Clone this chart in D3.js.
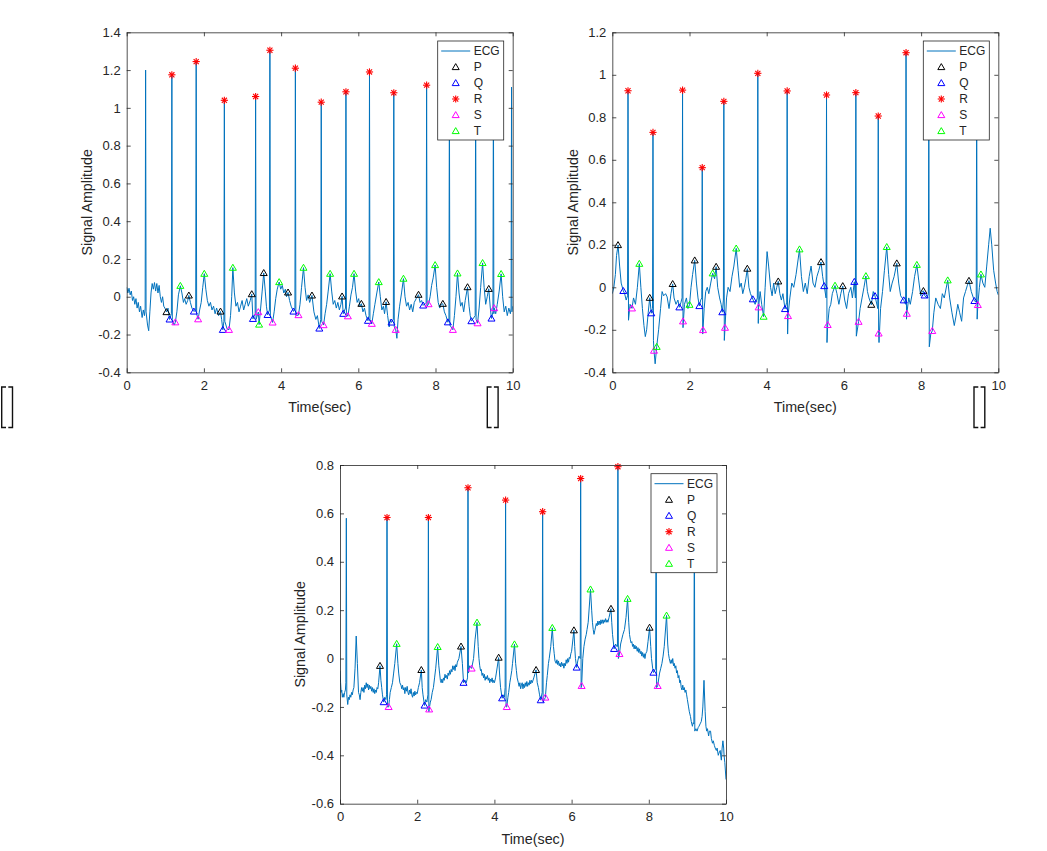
<!DOCTYPE html>
<html>
<head>
<meta charset="utf-8">
<script src="https://cdn.jsdelivr.net/npm/d3@7/dist/d3.min.js"></script>
<style>
  body { margin: 0; background: #fff; }
  text { font-family: "Liberation Sans", Arial, Helvetica, sans-serif; fill: #262626; }
</style>
</head>
<body>
<svg id="fig" width="1047" height="851"></svg>
<script>
// ---- valeurs ----
const xTicks = [0, 2, 4, 6, 8, 10];
const yTicks1 = [-0.4, -0.2, 0, 0.2, 0.4, 0.6, 0.8, 1, 1.2, 1.4];
const yTicks2 = [-0.4, -0.2, 0, 0.2, 0.4, 0.6, 0.8, 1, 1.2];
const yTicks3 = [-0.6, -0.4, -0.2, 0, 0.2, 0.4, 0.6, 0.8];
const legendNames = ['ECG', 'P', 'Q', 'R', 'S', 'T'];

// signal 1 : [temps, amplitude]
const ecg1 = [[0,0.05],[0.03,0.02],[0.06,0.045],[0.09,0.01],[0.12,0.03],[0.15,-0.02],[0.18,0.0],[0.21,-0.04],[0.24,-0.01],[0.27,-0.06],[0.3,-0.03],[0.33,-0.08],[0.36,-0.05],[0.4,-0.11],[0.43,-0.07],[0.46,-0.1],[0.478,-0.06],[0.49,1.2],[0.502,-0.08],[0.54,-0.15],[0.57,-0.18],[0.6,-0.08],[0.63,0.02],[0.66,0.07],[0.69,0.04],[0.72,0.075],[0.75,0.03],[0.78,0.07],[0.81,0.02],[0.84,0.06],[0.87,0.0],[0.9,-0.03],[0.93,0.0],[0.96,-0.05],[0.99,-0.06],[1.03,-0.08],[1.07,-0.06],[1.11,-0.12],[1.158,-0.09],[1.17,1.175],[1.182,-0.12],[1.23,-0.15],[1.26,-0.135],[1.3,-0.08],[1.34,0.01],[1.39,0.058],[1.43,0.02],[1.47,-0.03],[1.5,-0.01],[1.54,-0.04],[1.58,-0.02],[1.61,0.007],[1.65,-0.03],[1.69,-0.06],[1.74,-0.078],[1.788,-0.07],[1.8,1.245],[1.812,-0.09],[1.85,-0.119],[1.89,-0.07],[1.93,-0.03],[1.97,0.05],[2.01,0.122],[2.05,0.04],[2.09,-0.02],[2.13,-0.05],[2.17,-0.03],[2.21,-0.07],[2.25,-0.05],[2.29,-0.09],[2.33,-0.06],[2.38,-0.1],[2.43,-0.078],[2.46,-0.12],[2.49,-0.175],[2.518,-0.13],[2.53,1.04],[2.542,-0.13],[2.6,-0.17],[2.65,-0.175],[2.69,-0.1],[2.72,0.0],[2.75,0.154],[2.79,0.02],[2.83,-0.05],[2.87,-0.03],[2.91,-0.08],[2.95,-0.05],[2.99,-0.02],[3.03,-0.07],[3.07,-0.04],[3.11,-0.01],[3.15,-0.05],[3.2,-0.02],[3.24,0.014],[3.27,-0.117],[3.328,-0.09],[3.34,1.06],[3.352,-0.12],[3.41,-0.081],[3.43,-0.147],[3.47,-0.06],[3.51,0.03],[3.55,0.126],[3.59,0.03],[3.62,-0.05],[3.65,-0.096],[3.698,-0.07],[3.71,1.305],[3.722,-0.1],[3.78,-0.136],[3.82,-0.08],[3.86,-0.01],[3.9,0.04],[3.95,0.078],[3.99,0.04],[4.03,0.06],[4.07,0.02],[4.11,0.04],[4.14,0.0],[4.18,0.023],[4.22,-0.02],[4.26,-0.05],[4.32,-0.078],[4.358,-0.06],[4.37,1.21],[4.382,-0.1],[4.45,-0.097],[4.49,-0.04],[4.53,0.05],[4.58,0.154],[4.62,0.05],[4.66,-0.02],[4.7,0.01],[4.74,-0.03],[4.8,0.007],[4.85,-0.08],[4.9,-0.12],[4.94,-0.1],[4.99,-0.168],[5.028,-0.12],[5.04,1.03],[5.052,-0.13],[5.1,-0.15],[5.14,-0.09],[5.18,-0.04],[5.22,0.03],[5.27,0.122],[5.31,0.03],[5.35,-0.04],[5.39,-0.02],[5.43,-0.06],[5.47,-0.03],[5.51,-0.07],[5.55,-0.04],[5.58,0.002],[5.61,-0.09],[5.668,-0.06],[5.68,1.085],[5.692,-0.09],[5.73,-0.103],[5.77,-0.05],[5.81,0.01],[5.85,0.05],[5.89,0.122],[5.93,0.03],[5.97,-0.03],[6.01,-0.01],[6.04,-0.05],[6.08,-0.037],[6.12,-0.08],[6.16,-0.06],[6.2,-0.1],[6.25,-0.127],[6.278,-0.1],[6.29,1.19],[6.302,-0.12],[6.35,-0.143],[6.39,-0.09],[6.43,-0.04],[6.48,0.02],[6.53,0.078],[6.57,0.0],[6.61,-0.07],[6.65,-0.05],[6.68,-0.09],[6.72,-0.027],[6.76,-0.1],[6.8,-0.16],[6.83,-0.12],[6.86,-0.136],[6.908,-0.12],[6.92,1.08],[6.932,-0.16],[6.97,-0.175],[7.0,-0.22],[7.03,-0.12],[7.07,-0.05],[7.12,0.02],[7.17,0.096],[7.21,0.0],[7.25,-0.05],[7.29,-0.03],[7.33,-0.07],[7.37,-0.04],[7.41,-0.08],[7.45,-0.03],[7.5,-0.01],[7.56,0.011],[7.6,-0.03],[7.64,-0.02],[7.68,-0.046],[7.758,-0.03],[7.77,1.12],[7.782,-0.05],[7.82,-0.039],[7.86,0.0],[7.9,0.06],[7.94,0.1],[7.99,0.168],[8.03,0.05],[8.07,-0.03],[8.11,-0.06],[8.15,-0.04],[8.19,-0.037],[8.23,-0.08],[8.27,-0.1],[8.32,-0.135],[8.348,-0.12],[8.36,1.15],[8.372,-0.15],[8.45,-0.175],[8.49,-0.1],[8.53,0.0],[8.57,0.124],[8.61,0.02],[8.65,-0.05],[8.69,-0.03],[8.73,-0.08],[8.77,-0.02],[8.83,0.051],[8.87,-0.05],[8.9,-0.1],[8.93,-0.129],[9.028,-0.1],[9.04,1.15],[9.052,-0.12],[9.09,-0.14],[9.13,-0.06],[9.17,0.05],[9.22,0.179],[9.26,0.05],[9.3,-0.04],[9.34,0.0],[9.38,0.042],[9.42,-0.06],[9.45,-0.115],[9.488,-0.08],[9.5,1.15],[9.512,-0.09],[9.52,-0.06],[9.56,-0.09],[9.6,-0.04],[9.65,0.03],[9.7,0.121],[9.74,0.0],[9.78,-0.08],[9.82,-0.05],[9.86,-0.1],[9.9,-0.06],[9.94,-0.09],[9.958,-0.06],[9.97,1.11],[9.982,-0.08],[10,-0.05]];
const P1 = [[1.03,-0.081],[1.61,0.007],[2.43,-0.078],[3.24,0.014],[3.55,0.126],[4.18,0.023],[4.8,0.007],[5.58,0.002],[6.08,-0.037],[6.72,-0.027],[7.56,0.011],[8.19,-0.037],[8.83,0.051],[9.38,0.042]];
const Q1 = [[1.11,-0.12],[1.74,-0.078],[2.49,-0.175],[3.27,-0.117],[3.65,-0.096],[4.32,-0.078],[4.99,-0.168],[5.61,-0.09],[6.25,-0.127],[6.86,-0.136],[7.68,-0.046],[8.32,-0.135],[8.93,-0.129],[9.45,-0.115]];
const R1 = [[1.17,1.175],[1.8,1.245],[2.53,1.04],[3.34,1.06],[3.71,1.305],[4.37,1.21],[5.04,1.03],[5.68,1.085],[6.29,1.19],[6.92,1.08],[7.77,1.12],[8.36,1.15],[9.04,1.15],[9.5,1.15]];
const S1 = [[1.26,-0.135],[1.85,-0.119],[2.65,-0.175],[3.41,-0.081],[3.78,-0.136],[4.45,-0.097],[5.1,-0.15],[5.73,-0.103],[6.35,-0.143],[6.97,-0.175],[7.82,-0.039],[8.45,-0.175],[9.09,-0.14],[9.52,-0.06]];
const T1 = [[1.39,0.058],[2.01,0.122],[2.75,0.154],[3.43,-0.147],[3.95,0.078],[4.58,0.154],[5.27,0.122],[5.89,0.122],[6.53,0.078],[7.17,0.096],[7.99,0.168],[8.57,0.124],[9.22,0.179],[9.7,0.121]];

// signal 2
const ecg2 = [[0,-0.03],[0.04,0.0],[0.08,0.06],[0.11,0.15],[0.15,0.199],[0.19,0.1],[0.23,0.02],[0.285,-0.017],[0.32,-0.03],[0.36,-0.06],[0.395,-0.04],[0.407,0.925],[0.42,-0.155],[0.46,-0.08],[0.51,-0.099],[0.55,-0.05],[0.6,-0.08],[0.65,0.0],[0.7,0.111],[0.74,0.0],[0.78,-0.1],[0.82,-0.18],[0.855,-0.232],[0.89,-0.2],[0.93,-0.12],[0.97,-0.049],[1.01,-0.122],[1.042,-0.1],[1.054,0.729],[1.066,-0.25],[1.08,-0.298],[1.11,-0.36],[1.15,-0.28],[1.2,-0.2],[1.25,-0.1],[1.29,-0.02],[1.33,-0.04],[1.38,-0.03],[1.42,-0.045],[1.47,-0.1],[1.52,-0.03],[1.564,0.016],[1.6,-0.05],[1.65,-0.08],[1.7,-0.06],[1.737,-0.094],[1.78,-0.07],[1.808,-0.05],[1.82,0.928],[1.832,-0.19],[1.87,-0.08],[1.92,-0.05],[1.96,-0.1],[2.0,-0.082],[2.04,0.0],[2.08,0.06],[2.135,0.127],[2.18,0.02],[2.22,-0.05],[2.255,-0.088],[2.29,-0.06],[2.318,-0.05],[2.33,0.563],[2.342,-0.22],[2.35,-0.201],[2.38,-0.1],[2.42,-0.02],[2.46,0.0],[2.5,-0.03],[2.55,0.02],[2.6,0.066],[2.65,0.04],[2.69,0.097],[2.73,0.0],[2.78,-0.05],[2.82,-0.08],[2.85,-0.117],[2.878,-0.06],[2.89,0.875],[2.902,-0.25],[2.92,-0.19],[2.96,-0.05],[3.0,0.0],[3.05,-0.02],[3.1,0.05],[3.15,0.1],[3.21,0.183],[3.26,0.08],[3.3,0.0],[3.34,0.02],[3.38,-0.03],[3.42,0.0],[3.46,0.04],[3.498,0.088],[3.54,0.0],[3.58,-0.03],[3.64,-0.056],[3.7,-0.08],[3.758,-0.05],[3.77,1.007],[3.782,-0.17],[3.79,-0.094],[3.83,-0.02],[3.87,-0.08],[3.92,-0.138],[3.96,0.0],[4.01,0.168],[4.05,0.1],[4.1,0.0],[4.14,-0.04],[4.18,0.02],[4.22,-0.03],[4.26,0.0],[4.3,0.028],[4.34,-0.03],[4.38,-0.06],[4.42,-0.03],[4.474,-0.102],[4.518,-0.07],[4.53,0.924],[4.542,-0.22],[4.552,-0.135],[4.6,-0.05],[4.65,0.02],[4.7,0.0],[4.76,0.06],[4.85,0.179],[4.9,0.05],[4.95,-0.02],[5.0,0.02],[5.05,-0.03],[5.1,0.05],[5.15,0.1],[5.2,0.02],[5.25,0.0],[5.3,0.05],[5.35,0.08],[5.407,0.119],[5.45,0.05],[5.49,0.006],[5.538,-0.05],[5.55,0.905],[5.562,-0.26],[5.58,-0.177],[5.62,-0.1],[5.66,-0.08],[5.7,-0.03],[5.77,0.008],[5.82,-0.03],[5.87,-0.08],[5.92,-0.03],[5.97,0.006],[6.02,-0.06],[6.07,-0.1],[6.12,-0.03],[6.18,0.0],[6.22,-0.05],[6.27,0.026],[6.298,-0.05],[6.31,0.916],[6.322,-0.23],[6.38,-0.162],[6.42,-0.1],[6.47,-0.05],[6.52,0.0],[6.57,0.053],[6.61,-0.02],[6.65,-0.05],[6.71,-0.082],[6.76,-0.02],[6.806,-0.041],[6.878,-0.1],[6.89,0.806],[6.9,-0.217],[6.91,-0.26],[6.95,-0.1],[7.0,-0.02],[7.05,0.08],[7.11,0.19],[7.16,0.06],[7.2,-0.02],[7.25,0.02],[7.3,0.05],[7.37,0.113],[7.42,0.02],[7.47,-0.04],[7.55,-0.061],[7.598,-0.08],[7.61,1.104],[7.622,-0.15],[7.63,-0.124],[7.68,-0.05],[7.72,-0.08],[7.78,-0.02],[7.83,0.05],[7.89,0.106],[7.94,0.03],[7.99,-0.04],[8.03,-0.02],[8.06,-0.017],[8.09,-0.038],[8.15,-0.05],[8.188,-0.03],[8.2,0.9],[8.212,-0.28],[8.25,-0.22],[8.29,-0.205],[8.33,-0.12],[8.38,-0.05],[8.44,-0.08],[8.5,-0.1],[8.55,-0.03],[8.6,-0.05],[8.69,0.033],[8.74,-0.05],[8.8,-0.12],[8.86,-0.18],[8.9,-0.14],[8.95,-0.08],[9.0,-0.12],[9.05,-0.16],[9.1,-0.05],[9.15,-0.02],[9.2,0.01],[9.24,0.031],[9.3,-0.02],[9.38,-0.064],[9.428,-0.07],[9.44,0.9],[9.452,-0.15],[9.47,-0.083],[9.51,0.0],[9.55,0.061],[9.6,0.02],[9.65,0.0],[9.7,0.1],[9.75,0.2],[9.79,0.278],[9.83,0.2],[9.88,0.08],[9.93,0.02],[9.97,-0.02],[10,-0.036]];
const P2 = [[0.148,0.199],[0.969,-0.049],[1.564,0.016],[2.135,0.127],[2.69,0.097],[3.498,0.088],[4.3,0.028],[5.407,0.119],[5.97,0.006],[6.71,-0.082],[7.37,0.113],[8.06,-0.017],[9.24,0.031]];
const Q2 = [[0.285,-0.017],[1.01,-0.122],[1.737,-0.094],[2.255,-0.088],[2.85,-0.117],[3.64,-0.056],[4.474,-0.102],[5.49,0.006],[6.27,0.026],[6.806,-0.041],[7.55,-0.061],[8.09,-0.038],[9.38,-0.064]];
const R2 = [[0.407,0.925],[1.054,0.729],[1.82,0.928],[2.33,0.563],[2.89,0.875],[3.77,1.007],[4.53,0.924],[5.55,0.905],[6.31,0.916],[6.89,0.806],[7.61,1.104],[8.2,0.9],[9.44,0.9]];
const S2 = [[0.51,-0.099],[1.08,-0.298],[1.832,-0.16],[2.35,-0.201],[2.92,-0.19],[3.79,-0.094],[4.552,-0.135],[5.58,-0.177],[6.38,-0.162],[6.9,-0.217],[7.63,-0.124],[8.29,-0.205],[9.47,-0.083]];
const T2 = [[0.7,0.111],[1.15,-0.28],[2.0,-0.082],[2.6,0.066],[3.21,0.183],[3.92,-0.138],[4.85,0.179],[5.77,0.008],[6.57,0.053],[7.11,0.19],[7.89,0.106],[8.69,0.033],[9.55,0.061]];

// signal 3
const ecg3 = [[0,-0.05],[0.015,-0.1],[0.03,-0.14],[0.045,-0.13],[0.06,-0.16],[0.08,-0.145],[0.1,-0.16],[0.12,-0.14],[0.14,-0.13],[0.152,-0.1],[0.164,0.58],[0.176,-0.15],[0.2,-0.19],[0.22,-0.16],[0.24,-0.17],[0.26,-0.15],[0.28,-0.16],[0.3,-0.14],[0.32,-0.15],[0.34,-0.13],[0.36,-0.12],[0.39,-0.04],[0.42,0.093],[0.45,-0.02],[0.48,-0.14],[0.5,-0.15],[0.52,-0.17],[0.54,-0.14],[0.56,-0.12],[0.58,-0.135],[0.6,-0.12],[0.62,-0.14],[0.64,-0.11],[0.66,-0.125],[0.68,-0.1],[0.7,-0.12],[0.72,-0.105],[0.74,-0.13],[0.76,-0.11],[0.78,-0.125],[0.8,-0.115],[0.82,-0.135],[0.84,-0.12],[0.86,-0.14],[0.88,-0.125],[0.9,-0.145],[0.92,-0.13],[0.94,-0.14],[0.96,-0.12],[0.98,-0.125],[1.0,-0.1],[1.036,-0.03],[1.06,-0.09],[1.08,-0.12],[1.1,-0.15],[1.131,-0.18],[1.16,-0.16],[1.19,-0.17],[1.206,-0.15],[1.218,0.583],[1.23,-0.2],[1.26,-0.2],[1.28,-0.17],[1.3,-0.14],[1.33,-0.12],[1.36,-0.1],[1.39,-0.06],[1.42,-0.02],[1.468,0.061],[1.5,-0.02],[1.52,-0.06],[1.55,-0.1],[1.58,-0.11],[1.6,-0.125],[1.62,-0.11],[1.64,-0.13],[1.66,-0.12],[1.68,-0.145],[1.7,-0.12],[1.72,-0.135],[1.74,-0.115],[1.76,-0.14],[1.78,-0.15],[1.8,-0.13],[1.82,-0.145],[1.84,-0.125],[1.86,-0.15],[1.88,-0.16],[1.9,-0.14],[1.92,-0.155],[1.94,-0.135],[1.96,-0.15],[1.98,-0.14],[2.0,-0.145],[2.03,-0.12],[2.06,-0.1],[2.107,-0.047],[2.13,-0.12],[2.15,-0.15],[2.19,-0.194],[2.22,-0.17],[2.25,-0.18],[2.278,-0.15],[2.29,0.583],[2.302,-0.22],[2.31,-0.21],[2.34,-0.18],[2.36,-0.17],[2.39,-0.14],[2.42,-0.12],[2.45,-0.08],[2.48,-0.04],[2.53,0.048],[2.56,-0.03],[2.58,-0.06],[2.6,-0.09],[2.62,-0.1],[2.64,-0.085],[2.66,-0.1],[2.68,-0.08],[2.7,-0.09],[2.72,-0.065],[2.74,-0.08],[2.76,-0.07],[2.78,-0.085],[2.8,-0.06],[2.82,-0.07],[2.84,-0.05],[2.86,-0.065],[2.88,-0.045],[2.9,-0.055],[2.92,-0.03],[2.94,-0.045],[2.96,-0.03],[2.98,-0.05],[3.0,-0.025],[3.02,-0.035],[3.04,-0.015],[3.08,0.0],[3.135,0.05],[3.17,-0.02],[3.2,-0.1],[3.24,-0.09],[3.27,-0.1],[3.304,-0.08],[3.316,0.706],[3.328,-0.06],[3.36,-0.03],[3.41,-0.041],[3.46,0.0],[3.5,0.08],[3.55,0.149],[3.58,0.05],[3.6,0.0],[3.62,-0.03],[3.64,-0.05],[3.66,-0.045],[3.68,-0.07],[3.7,-0.06],[3.72,-0.08],[3.74,-0.065],[3.76,-0.09],[3.78,-0.075],[3.8,-0.085],[3.82,-0.07],[3.84,-0.09],[3.86,-0.08],[3.88,-0.1],[3.9,-0.085],[3.92,-0.095],[3.94,-0.08],[3.96,-0.1],[3.98,-0.09],[4.0,-0.1],[4.03,-0.08],[4.05,-0.06],[4.11,0.004],[4.14,-0.08],[4.16,-0.12],[4.2,-0.164],[4.23,-0.15],[4.26,-0.16],[4.278,-0.12],[4.29,0.655],[4.302,-0.2],[4.32,-0.2],[4.35,-0.16],[4.37,-0.14],[4.4,-0.1],[4.42,-0.08],[4.45,-0.05],[4.47,-0.02],[4.52,0.059],[4.55,-0.02],[4.57,-0.05],[4.59,-0.08],[4.62,-0.1],[4.64,-0.115],[4.66,-0.1],[4.68,-0.125],[4.7,-0.11],[4.72,-0.1],[4.74,-0.125],[4.76,-0.105],[4.78,-0.12],[4.8,-0.1],[4.82,-0.115],[4.84,-0.095],[4.86,-0.115],[4.88,-0.1],[4.9,-0.11],[4.92,-0.09],[4.94,-0.105],[4.96,-0.09],[4.98,-0.1],[5.02,-0.08],[5.08,-0.047],[5.11,-0.1],[5.14,-0.12],[5.17,-0.15],[5.2,-0.172],[5.238,-0.14],[5.25,0.607],[5.262,-0.18],[5.29,-0.17],[5.32,-0.161],[5.35,-0.1],[5.37,-0.07],[5.4,-0.02],[5.42,0.0],[5.46,0.05],[5.5,0.127],[5.53,0.05],[5.55,0.02],[5.57,-0.01],[5.6,-0.02],[5.62,-0.005],[5.64,-0.025],[5.66,-0.01],[5.68,-0.03],[5.7,-0.02],[5.72,-0.035],[5.74,-0.015],[5.76,-0.03],[5.78,-0.02],[5.8,-0.04],[5.82,-0.02],[5.84,-0.03],[5.86,-0.005],[5.88,-0.02],[5.9,0.0],[5.92,-0.015],[5.94,0.005],[5.96,0.0],[5.98,0.02],[6.0,0.03],[6.06,0.117],[6.08,0.05],[6.1,0.0],[6.13,-0.037],[6.16,-0.01],[6.19,0.01],[6.223,0.0],[6.235,0.744],[6.247,-0.12],[6.26,-0.113],[6.29,0.0],[6.32,0.05],[6.35,0.08],[6.38,0.1],[6.4,0.12],[6.43,0.15],[6.49,0.286],[6.52,0.2],[6.54,0.15],[6.56,0.12],[6.58,0.1],[6.6,0.115],[6.62,0.13],[6.64,0.145],[6.66,0.135],[6.68,0.155],[6.7,0.14],[6.72,0.155],[6.74,0.14],[6.76,0.16],[6.78,0.145],[6.8,0.16],[6.82,0.145],[6.84,0.16],[6.86,0.15],[6.88,0.165],[6.9,0.15],[6.92,0.16],[6.94,0.15],[6.97,0.17],[7.02,0.206],[7.04,0.15],[7.06,0.1],[7.1,0.04],[7.14,0.06],[7.17,0.05],[7.188,0.05],[7.2,0.793],[7.212,0.0],[7.24,0.019],[7.27,0.06],[7.3,0.08],[7.33,0.1],[7.37,0.12],[7.41,0.17],[7.45,0.247],[7.48,0.15],[7.5,0.1],[7.52,0.08],[7.54,0.065],[7.56,0.07],[7.58,0.05],[7.6,0.06],[7.62,0.04],[7.64,0.055],[7.66,0.04],[7.68,0.05],[7.7,0.03],[7.72,0.045],[7.74,0.025],[7.76,0.04],[7.78,0.02],[7.8,0.03],[7.82,0.01],[7.84,0.025],[7.86,0.005],[7.88,0.02],[7.9,0.0],[7.92,0.02],[7.95,0.03],[7.98,0.07],[8.02,0.128],[8.05,0.05],[8.07,0.0],[8.1,-0.04],[8.12,-0.058],[8.15,-0.05],[8.178,-0.04],[8.19,0.72],[8.202,-0.12],[8.23,-0.113],[8.26,-0.08],[8.28,-0.06],[8.31,-0.04],[8.34,-0.02],[8.37,0.01],[8.4,0.05],[8.46,0.178],[8.49,0.06],[8.51,0.02],[8.53,0.0],[8.56,-0.02],[8.58,-0.005],[8.6,-0.02],[8.62,0.0],[8.64,-0.03],[8.66,-0.02],[8.68,-0.04],[8.7,-0.03],[8.72,-0.06],[8.74,-0.05],[8.76,-0.08],[8.78,-0.07],[8.8,-0.1],[8.82,-0.09],[8.84,-0.12],[8.86,-0.13],[8.88,-0.11],[8.9,-0.13],[8.92,-0.12],[8.94,-0.14],[8.96,-0.13],[8.98,-0.15],[9.0,-0.17],[9.03,-0.2],[9.05,-0.22],[9.08,-0.24],[9.1,-0.26],[9.13,-0.28],[9.15,-0.265],[9.168,-0.27],[9.18,0.75],[9.192,-0.3],[9.22,-0.29],[9.25,-0.3],[9.28,-0.285],[9.3,-0.28],[9.33,-0.27],[9.36,-0.26],[9.38,-0.24],[9.4,-0.2],[9.43,-0.09],[9.46,-0.22],[9.48,-0.28],[9.5,-0.3],[9.52,-0.29],[9.55,-0.32],[9.57,-0.3],[9.6,-0.3],[9.62,-0.33],[9.65,-0.35],[9.67,-0.34],[9.7,-0.36],[9.72,-0.37],[9.75,-0.38],[9.77,-0.37],[9.8,-0.4],[9.82,-0.39],[9.85,-0.38],[9.87,-0.41],[9.88,-0.42],[9.9,-0.37],[9.92,-0.34],[9.94,-0.37],[9.95,-0.4],[9.97,-0.43],[10,-0.5]];
const P3 = [[1.036,-0.03],[2.107,-0.047],[3.135,0.05],[4.11,0.004],[5.08,-0.047],[6.06,0.117],[7.02,0.206],[8.02,0.128]];
const Q3 = [[1.131,-0.18],[2.19,-0.194],[3.2,-0.1],[4.2,-0.164],[5.2,-0.172],[6.13,-0.037],[7.1,0.04],[8.12,-0.058]];
const R3 = [[1.218,0.583],[2.29,0.583],[3.316,0.706],[4.29,0.655],[5.25,0.607],[6.235,0.744],[7.2,0.793],[8.19,0.72]];
const S3 = [[1.26,-0.2],[2.31,-0.21],[3.41,-0.041],[4.32,-0.2],[5.32,-0.161],[6.26,-0.113],[7.24,0.019],[8.23,-0.113]];
const T3 = [[1.468,0.061],[2.53,0.048],[3.55,0.149],[4.52,0.059],[5.5,0.127],[6.49,0.286],[7.45,0.247],[8.46,0.178]];

// ---- mise en page ----
const svg = d3.select('#fig');
const ecgColor = '#0072BD';
const axisColor = '#262626';
const markerColors = { P: '#000000', Q: '#0000FF', R: '#FF0000', S: '#FF00FF', T: '#00FF00' };

const panels = [
  { left: 126.7, top: 32.3, width: 386, height: 340, yDomain: [-0.4, 1.4], yTicks: yTicks1,
    ecg: ecg1, marks: { P: P1, Q: Q1, R: R1, S: S1, T: T1 } },
  { left: 612.3, top: 32.3, width: 386, height: 340, yDomain: [-0.4, 1.2], yTicks: yTicks2,
    ecg: ecg2, marks: { P: P2, Q: Q2, R: R2, S: S2, T: T2 } },
  { left: 340, top: 465, width: 386, height: 338.7, yDomain: [-0.6, 0.8], yTicks: yTicks3,
    ecg: ecg3, marks: { P: P3, Q: Q3, R: R3, S: S3, T: T3 } }
];

const fmt = d => String(+d.toFixed(1));

// marqueurs façon Matlab
function drawMarker(g, kind, cx, cy) {
  if (kind === 'R') {
    const r = 3.6;
    [0, 45, 90, 135].forEach(a => {
      const dx = r * Math.cos(a * Math.PI / 180), dy = r * Math.sin(a * Math.PI / 180);
      g.append('line')
        .attr('x1', cx - dx).attr('y1', cy - dy)
        .attr('x2', cx + dx).attr('y2', cy + dy)
        .attr('stroke', markerColors.R).attr('stroke-width', 1.1);
    });
  } else {
    g.append('path')
      .attr('d', `M${cx},${cy - 3.4}L${cx + 3.5},${cy + 2.6}L${cx - 3.5},${cy + 2.6}Z`)
      .attr('fill', 'none')
      .attr('stroke', markerColors[kind])
      .attr('stroke-width', 1);
  }
}

panels.forEach((p, i) => {
  const x = d3.scaleLinear().domain([0, 10]).range([p.left, p.left + p.width]);
  const y = d3.scaleLinear().domain(p.yDomain).range([p.top + p.height, p.top]);
  const g = svg.append('g');

  g.append('clipPath').attr('id', 'clip' + i)
    .append('rect')
    .attr('x', p.left).attr('y', p.top)
    .attr('width', p.width).attr('height', p.height);

  // signal
  const line = d3.line().x(d => x(d[0])).y(d => y(d[1]));
  g.append('path')
    .datum(p.ecg)
    .attr('clip-path', `url(#clip${i})`)
    .attr('d', line)
    .attr('fill', 'none')
    .attr('stroke', ecgColor)
    .attr('stroke-width', 1)
    .attr('stroke-linejoin', 'round');

  // points P Q R S T
  const mg = g.append('g');
  ['P', 'Q', 'R', 'S', 'T'].forEach(k => {
    p.marks[k].forEach(d => drawMarker(mg, k, x(d[0]), y(d[1])));
  });

  // axes (ticks vers l'intérieur sur les 4 côtés)
  const styleAxis = sel => {
    sel.selectAll('path.domain').attr('stroke', axisColor).attr('stroke-width', 0.8);
    sel.selectAll('.tick line').attr('stroke', axisColor).attr('stroke-width', 0.8);
    sel.selectAll('text').attr('font-size', 13).attr('fill', axisColor)
      .attr('font-family', '"Liberation Sans", Arial, sans-serif');
  };
  g.append('g').attr('transform', `translate(0,${p.top + p.height})`)
    .call(d3.axisBottom(x).tickValues(xTicks).tickFormat(fmt).tickSize(-4).tickSizeOuter(0).tickPadding(8))
    .call(styleAxis);
  g.append('g').attr('transform', `translate(0,${p.top})`)
    .call(d3.axisTop(x).tickValues(xTicks).tickFormat('').tickSize(-4).tickSizeOuter(0))
    .call(styleAxis);
  g.append('g').attr('transform', `translate(${p.left},0)`)
    .call(d3.axisLeft(y).tickValues(p.yTicks).tickFormat(fmt).tickSize(-4).tickSizeOuter(0).tickPadding(6))
    .call(styleAxis);
  g.append('g').attr('transform', `translate(${p.left + p.width},0)`)
    .call(d3.axisRight(y).tickValues(p.yTicks).tickFormat('').tickSize(-4).tickSizeOuter(0))
    .call(styleAxis);

  // titres d'axes
  g.append('text')
    .attr('x', p.left + p.width / 2).attr('y', p.top + p.height + 40)
    .attr('text-anchor', 'middle').attr('font-size', 14.3)
    .text('Time(sec)');
  g.append('text')
    .attr('transform', `translate(${p.left - 34.7},${p.top + p.height / 2}) rotate(-90)`)
    .attr('text-anchor', 'middle').attr('font-size', 14.3)
    .text('Signal Amplitude');

  // légende
  const lx = p.left + p.width - 75, ly = p.top + 8.7;
  const lg = g.append('g');
  lg.append('rect')
    .attr('x', lx).attr('y', ly).attr('width', 66).attr('height', 99)
    .attr('fill', '#fff').attr('stroke', axisColor).attr('stroke-width', 0.8);
  legendNames.forEach((name, j) => {
    const ry = ly + 10 + j * 16;
    if (name === 'ECG') {
      lg.append('line')
        .attr('x1', lx + 3.5).attr('x2', lx + 32.5).attr('y1', ry).attr('y2', ry)
        .attr('stroke', ecgColor).attr('stroke-width', 1);
    } else {
      drawMarker(lg, name, lx + 18, ry);
    }
    lg.append('text')
      .attr('x', lx + 36).attr('y', ry).attr('dy', '0.35em')
      .attr('font-size', 12)
      .text(name);
  });
});

// crochets parasites sous les deux premiers graphiques
const bracketX = [1.7, 487.3, 974];
bracketX.forEach(bx => {
  const top = 387, bot = 427.5;
  svg.append('path')
    .attr('d', `M${bx + 4.3},${top}H${bx}V${bot}H${bx + 4.3}`)
    .attr('fill', 'none').attr('stroke', '#111').attr('stroke-width', 1.4);
  svg.append('path')
    .attr('d', `M${bx + 6.6},${top}H${bx + 10.8}V${bot}H${bx + 6.6}`)
    .attr('fill', 'none').attr('stroke', '#111').attr('stroke-width', 1.4);
});
</script>
</body>
</html>
